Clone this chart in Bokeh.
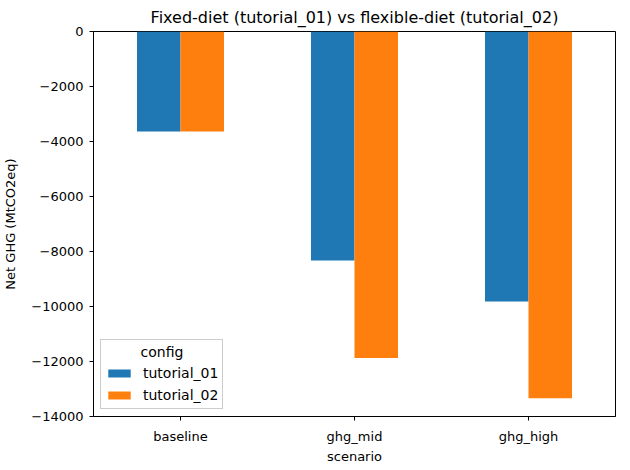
from bokeh.plotting import figure
from bokeh.models import ColumnDataSource, FixedTicker, Legend, LegendItem, Range1d
from bokeh.embed import file_html
from bokeh.resources import INLINE

categories = ["baseline", "ghg_mid", "ghg_high"]
series_names = ["tutorial_01", "tutorial_02"]
tutorial_01 = [-3640, -8330, -9820]
tutorial_02 = [-3640, -11880, -13340]
y_ticks = [0, -2000, -4000, -6000, -8000, -10000, -12000, -14000]

colors = ["#1f77b4", "#ff7f0e"]
FONT = "DejaVu Sans"

ymin = min(min(tutorial_01), min(tutorial_02)) * 1.05

p = figure(frame_width=522, frame_height=385, output_backend="svg", toolbar_location=None,
           x_range=Range1d(-0.5, len(categories) - 0.5), y_range=Range1d(ymin, 0),
           min_border_left=89, min_border_top=22, min_border_right=5, min_border_bottom=40)

p.title.text = "Fixed-diet (tutorial_01) vs flexible-diet (tutorial_02)"
p.title.align = "center"
p.title.text_font = FONT
p.title.text_font_size = "16px"
p.title.text_font_style = "normal"
p.title.text_color = "black"

idx = list(range(len(categories)))
renderers = []
for k, (vals, col) in enumerate(zip([tutorial_01, tutorial_02], colors)):
    src = ColumnDataSource(dict(x=[i - 0.125 + 0.25 * k for i in idx], top=[0] * len(vals), bottom=vals))
    r = p.vbar(x="x", top="top", bottom="bottom", width=0.25, source=src, fill_color=col, line_color=None)
    renderers.append(r)

legend = Legend(items=[LegendItem(label=n, renderers=[r]) for n, r in zip(series_names, renderers)],
                location="bottom_left", title="\u00a0" * 8 + "config")
legend.title_text_font = FONT
legend.title_text_font_size = "14px"
legend.title_text_font_style = "normal"
legend.title_text_color = "black"
legend.title_standoff = 4
legend.label_text_font = FONT
legend.label_text_font_size = "14px"
legend.label_text_color = "black"
legend.label_standoff = 10
legend.border_line_color = "#cccccc"
legend.border_line_alpha = 1.0
legend.background_fill_alpha = 0.8
legend.glyph_height = 10
legend.glyph_width = 28
legend.label_height = 18
legend.spacing = 4
legend.padding = 4
legend.margin = 7
p.add_layout(legend)

p.xgrid.visible = False
p.ygrid.visible = False
p.outline_line_color = "black"
p.outline_line_width = 1

p.xaxis.ticker = FixedTicker(ticks=idx)
p.xaxis.major_label_overrides = {i: c for i, c in zip(idx, categories)}
p.yaxis.ticker = FixedTicker(ticks=y_ticks)
p.yaxis.major_label_overrides = {t: (str(t).replace("-", "\u2212")) for t in y_ticks}

for ax in [p.xaxis[0], p.yaxis[0]]:
    ax.minor_tick_line_color = None
    ax.major_tick_in = 0
    ax.major_tick_out = 4
    ax.major_tick_line_color = "black"
    ax.major_label_text_font = FONT
    ax.major_label_text_font_size = "13px"
    ax.major_label_text_color = "black"
    ax.axis_label_text_font = FONT
    ax.axis_label_text_font_size = "13px"
    ax.axis_label_text_font_style = "normal"
    ax.axis_label_text_color = "black"
    ax.axis_line_color = "black"

p.xaxis.axis_label = "scenario"
p.yaxis.axis_label = "Net GHG (MtCO2eq)"
p.xaxis.major_label_standoff = 8
p.xaxis.axis_label_standoff = 2
p.yaxis.major_label_standoff = 6
p.yaxis.axis_label_standoff = 10

open("out.html", "w").write(file_html(p, INLINE))
